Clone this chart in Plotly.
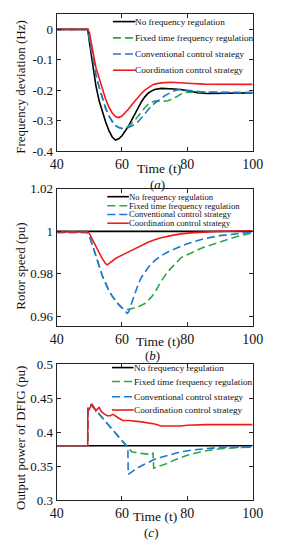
import plotly.graph_objects as go

W, H = 288, 550
FONT = "Liberation Serif"

# ---------------- data ----------------
names = ["No frequency regulation", "Fixed time frequency regulation",
         "Conventional control strategy", "Coordination control strategy"]
colors = ["#000000", "#2ca84a", "#1f77d4", "#ee1c1c"]
dashes = ["solid", "8px,4px", "8px,4px", "solid"]

x_ticks = [40, 60, 80, 100]

# (a) frequency deviation (Hz)
a_t_black = [40, 49.5, 50, 51, 52, 53, 54, 55, 56, 57, 58, 59, 60, 61, 62, 63, 64, 65, 66, 67, 68,
             69, 70, 72, 74, 76, 78, 80, 83, 86, 90, 93, 100]
a_black = [0, 0, -0.04, -0.12, -0.185, -0.235, -0.272, -0.305, -0.333, -0.354, -0.364, -0.36, -0.35,
           -0.335, -0.318, -0.298, -0.276, -0.255, -0.237, -0.222, -0.21, -0.203, -0.198, -0.194,
           -0.194, -0.196, -0.198, -0.202, -0.208, -0.211, -0.211, -0.21, -0.209]
a_t_green = [40, 49.5, 50, 51, 52, 53, 54, 55, 56, 57, 58, 59, 60, 61, 62, 63, 64, 65, 66, 67, 68,
             69, 70, 71, 72, 73, 74, 75, 76, 77, 78, 79, 80, 85, 90, 100]
a_green = [0, 0, -0.03, -0.095, -0.15, -0.19, -0.228, -0.26, -0.285, -0.303, -0.316, -0.323, -0.326,
           -0.324, -0.319, -0.31, -0.298, -0.285, -0.27, -0.257, -0.247, -0.24, -0.236, -0.235,
           -0.235, -0.236, -0.235, -0.231, -0.226, -0.22, -0.213, -0.209, -0.207, -0.206, -0.207, -0.208]
a_t_blue = [40, 49.5, 50, 51, 52, 53, 54, 55, 56, 57, 58, 59, 60, 61, 62, 63, 64, 65, 66, 67, 68,
            69, 70, 71, 72, 73, 74, 75, 76, 77, 78, 80, 85, 90, 100]
a_blue = [0, 0, -0.03, -0.095, -0.15, -0.19, -0.228, -0.26, -0.285, -0.303, -0.316, -0.323, -0.326,
          -0.326, -0.323, -0.318, -0.312, -0.303, -0.29, -0.276, -0.263, -0.252, -0.243, -0.234,
          -0.226, -0.219, -0.213, -0.207, -0.202, -0.199, -0.198, -0.2, -0.206, -0.208, -0.208]
a_t_red = [40, 49.5, 50, 51, 52, 53, 54, 55, 56, 57, 58, 59, 60, 61, 62, 63, 64, 65, 66, 67, 68,
           69, 70, 72, 75, 78, 80, 85, 90, 100]
a_red = [0, 0, -0.01, -0.07, -0.125, -0.16, -0.198, -0.23, -0.256, -0.275, -0.287, -0.29, -0.285,
         -0.275, -0.262, -0.248, -0.234, -0.221, -0.21, -0.2, -0.191, -0.185, -0.18, -0.176, -0.174,
         -0.175, -0.177, -0.18, -0.181, -0.181]

# (b) rotor speed (pu)
b_t_black = [40, 100]
b_black = [1.0, 1.0]
b_t_green = [40, 49.5, 50, 51, 52, 53, 54, 55, 56, 57, 58, 59, 60, 61, 62, 63, 65, 67, 69, 70, 71,
             72, 74, 76, 78, 80, 85, 90, 95, 100]
b_green = [0.9995, 0.9995, 0.998, 0.993, 0.988, 0.984, 0.979, 0.9755, 0.972, 0.9695, 0.9672, 0.9655,
           0.964, 0.9632, 0.9632, 0.9636, 0.9645, 0.966, 0.969, 0.9712, 0.974, 0.9765, 0.981,
           0.9845, 0.9875, 0.989, 0.9925, 0.995, 0.9975, 0.9993]
b_t_blue = [40, 49.5, 50, 51, 52, 53, 54, 55, 56, 57, 58, 59, 60, 61, 61.6, 62, 63, 64, 65, 66, 67,
            68, 70, 72, 74, 76, 78, 80, 85, 90, 95, 100]
b_blue = [0.9995, 0.9995, 0.998, 0.993, 0.988, 0.984, 0.979, 0.9755, 0.972, 0.9695, 0.9672, 0.9655,
          0.964, 0.9625, 0.9614, 0.962, 0.9665, 0.9712, 0.9752, 0.9785, 0.981, 0.983, 0.9862,
          0.9885, 0.9903, 0.9918, 0.993, 0.9942, 0.9965, 0.998, 0.999, 0.9997]
b_t_red = [40, 49.5, 50, 51, 52, 53, 54, 55, 55.5, 56, 58, 60, 62, 64, 66, 68, 70, 72, 75, 78, 82,
           86, 90, 95, 100]
b_red = [0.9997, 0.9997, 0.999, 0.996, 0.993, 0.99, 0.987, 0.9848, 0.9843, 0.9848, 0.9872, 0.9888,
         0.9903, 0.9918, 0.9935, 0.9949, 0.996, 0.997, 0.998, 0.9988, 0.9994, 0.9998, 1.0, 1.0002,
         1.0003]

# (c) output power of DFIG (pu)
c_t_black = [40, 100]
c_black = [0.38, 0.38]
c_t_green = [40, 49.5, 49.6, 50.5, 52, 54, 56, 58, 60, 61.8, 62.5, 63, 65, 67, 69.3, 69.5, 69.7,
             72, 74, 76, 78, 80, 85, 90, 95, 100]
c_green = [0.38, 0.38, 0.435, 0.44, 0.432, 0.421, 0.409, 0.398, 0.388, 0.377, 0.373, 0.371, 0.369,
           0.368, 0.367, 0.37, 0.347, 0.351, 0.354, 0.359, 0.363, 0.366, 0.372, 0.3755, 0.377, 0.378]
c_t_blue = [40, 49.5, 49.6, 50.5, 52, 54, 56, 58, 60, 61.8, 61.9, 63, 65, 67, 70, 72, 75, 78, 82,
            86, 90, 100]
c_blue = [0.38, 0.38, 0.435, 0.44, 0.432, 0.421, 0.409, 0.398, 0.388, 0.377, 0.338, 0.342, 0.348,
          0.353, 0.36, 0.363, 0.367, 0.371, 0.374, 0.376, 0.3775, 0.378]
c_t_red = [40, 49.5, 49.55, 49.9, 50.2, 50.8, 51.5, 52, 52.5, 53, 53.7, 54.4, 55.5, 56.4, 57.3, 58,
           58.8, 60.2, 62, 66, 70, 72, 75, 78, 80, 86, 100]
c_red = [0.38, 0.38, 0.436, 0.432, 0.436, 0.441, 0.436, 0.431, 0.434, 0.436, 0.43, 0.427, 0.424,
         0.424, 0.426, 0.423, 0.421, 0.417, 0.417, 0.415, 0.412, 0.409, 0.4085, 0.409, 0.41, 0.411,
         0.411]

y_ticks_a = [0, -0.1, -0.2, -0.3, -0.4]
y_ticks_b = [0.96, 0.98, 1, 1.02]
y_ticks_c = [0.3, 0.35, 0.4, 0.45, 0.5]

panels = [
    dict(series=[(a_t_black, a_black), (a_t_green, a_green), (a_t_blue, a_blue), (a_t_red, a_red)],
         yticks=y_ticks_a, ytext=["0", "-0.1", "-0.2", "-0.3", "-0.4"], yrange=[-0.4, 0.05],
         ytitle="Frequency deviation (Hz)", label="(<i>a</i>)"),
    dict(series=[(b_t_black, b_black), (b_t_green, b_green), (b_t_blue, b_blue), (b_t_red, b_red)],
         yticks=y_ticks_b, ytext=["0.96", "0.98", "1", "1.02"], yrange=[0.9554, 1.02],
         ytitle="Rotor speed (pu)", label="(<i>b</i>)"),
    dict(series=[(c_t_black, c_black), (c_t_green, c_green), (c_t_blue, c_blue), (c_t_red, c_red)],
         yticks=y_ticks_c, ytext=["0.3", "0.35", "0.4", "0.45", "0.5"], yrange=[0.3, 0.5],
         ytitle="Output power of DFIG (pu)", label="(<i>c</i>)"),
]

# ---------------- layout (pixel geometry) ----------------
plot_left, plot_right = 53, 262
frames = [(7.4, 148), (187, 328), (367, 507)]          # top, bottom in px
xlab_y = [166.5, 344, 524]                              # "Time (t)" centre
sub_y = [182, 358.5, 540]                               # (a)/(b)/(c) centre
sub_x = [160, 155, 154]
time_x = [162, 161, 158]
ytitle_y = [82, 267, 443]
leg_rows = [[15, 31.7, 48.3, 65], [195, 204.3, 213.3, 222.3], [370.7, 385, 400.7, 414.3]]
leg_x = [(113, 137), (107, 130), (112, 135)]
leg_size = [9.2, 8.6, 9.2]


def px(x):
    return x / W


def py(y):
    return 1 - y / H


fig = go.Figure()
annotations = []
shapes = []

for i, p in enumerate(panels):
    k = "" if i == 0 else str(i + 1)
    for j, (t, v) in enumerate(p["series"]):
        fig.add_trace(go.Scatter(
            x=t, y=v, mode="lines", name=names[j], showlegend=False,
            xaxis="x" + k, yaxis="y" + k,
            line=dict(color=colors[j], width=1.6, dash=dashes[j])))
    top, bot = frames[i]
    axis_common = dict(showline=True, linecolor="#222", linewidth=1, mirror="ticks",
                       ticks="inside", ticklen=4, tickcolor="#222", showgrid=False,
                       zeroline=False)
    fig.layout["xaxis" + k] = dict(domain=[px(plot_left), px(plot_right)], range=[40, 100],
                                   tickvals=x_ticks, anchor="y" + k,
                                   tickfont=dict(family=FONT, size=14, color="#111"),
                                   **axis_common)
    fig.layout["yaxis" + k] = dict(domain=[py(bot), py(top)], range=p["yrange"],
                                   tickvals=p["yticks"], ticktext=p["ytext"], anchor="x" + k,
                                   tickfont=dict(family=FONT, size=13, color="#111"),
                                   **axis_common)
    annotations.append(dict(text="Time (t)", x=px(time_x[i]), y=py(xlab_y[i]), xref="paper",
                            yref="paper", showarrow=False, xanchor="center", yanchor="middle",
                            borderpad=0, font=dict(family=FONT, size=13.5, color="#111")))
    annotations.append(dict(text=p["label"], x=px(sub_x[i]), y=py(sub_y[i]), xref="paper",
                            yref="paper", showarrow=False, xanchor="center", yanchor="middle",
                            font=dict(family=FONT, size=13, color="#111")))
    annotations.append(dict(text=p["ytitle"], x=px(15), y=py(ytitle_y[i]), xref="paper",
                            yref="paper", showarrow=False, textangle=-90, xanchor="center",
                            yanchor="middle", font=dict(family=FONT, size=13, color="#111")))
    # legend
    x0, x1 = leg_x[i]
    for j, ry in enumerate(leg_rows[i]):
        shapes.append(dict(type="line", xref="paper", yref="paper", x0=px(x0), x1=px(x1),
                           y0=py(ry), y1=py(ry),
                           line=dict(color=colors[j], width=1.6, dash=dashes[j])))
        annotations.append(dict(text=names[j], x=px(x1), y=py(ry), xref="paper", yref="paper",
                                showarrow=False, xanchor="left", yanchor="middle", xshift=-1,
                                borderpad=0,
                                font=dict(family=FONT, size=leg_size[i], color="#111")))

fig.update_layout(width=W, height=H, margin=dict(l=0, r=0, t=0, b=0),
                  paper_bgcolor="white", plot_bgcolor="white",
                  annotations=annotations, shapes=shapes, showlegend=False)

fig.write_html("out.html", config={"displayModeBar": False, "staticPlot": True},
               post_script="document.body.style.margin='0px';document.body.style.overflow='hidden';")
